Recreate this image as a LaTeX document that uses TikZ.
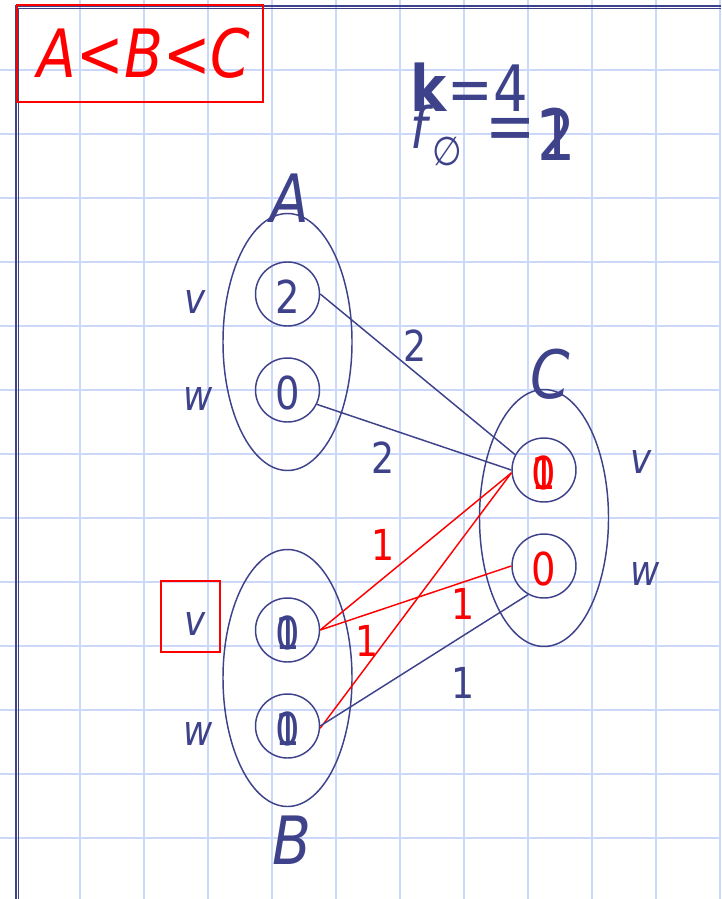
\documentclass[tikz,border=0pt]{standalone}
\usepackage{fontspec}
\setmainfont{DejaVu Sans}[FakeStretch=0.85]
\usetikzlibrary{positioning,shapes.geometric,calc}
\definecolor{slideblue}{RGB}{62,66,138}
\definecolor{slidered}{RGB}{255,0,0}
\definecolor{gridblue}{RGB}{204,216,250}
\newcommand\overlaid[2]{\makebox[0pt]{#1}\makebox[0pt]{#2}}
\newcommand\fs[1]{\fontsize{#1}{1.2\dimexpr#1\relax}\selectfont}
\tikzset{
  gridline/.style={gridblue,line width=1.5pt},
  setell/.style={ellipse,draw=slideblue,line width=1.1pt,minimum width=96.75pt,
                 minimum height=192.75pt,inner sep=0pt},
  elem/.style={circle,draw=slideblue,line width=1.1pt,minimum size=48pt,inner sep=0pt,
               text=slideblue,font=\fs{34pt},text height=29pt,text depth=0pt},
  redelem/.style={elem,text=slidered},
  setname/.style={text=slideblue,font=\fs{50pt}\itshape,inner sep=0pt},
  varname/.style={text=slideblue,font=\fs{31.5pt}\itshape,inner sep=0pt,anchor=base},
  wlbl/.style={text=slideblue,font=\fs{32pt},inner sep=0pt},
  redwlbl/.style={wlbl,text=slidered},
  eb/.style={slideblue,line width=1.1pt},
  er/.style={slidered,line width=1.1pt},
}
\begin{document}
\begin{tikzpicture}[x=0.75pt,y=-0.75pt]
\useasboundingbox[fill=white] (0,0) rectangle (721,899);

% grid paper
\foreach \gx in {80,144,...,720} \draw[gridline] (\gx,0) -- (\gx,899);
\foreach \gy in {70,134,...,838} \draw[gridline] (0,\gy) -- (721,\gy);

% slide frame
\draw[slideblue,line width=1.4pt] (15.8,899) -- (15.8,5.6) -- (721,5.6);
\draw[slideblue,line width=0.9pt] (18.6,899) -- (18.6,8.7) -- (721,8.7);

\node[draw=slidered,line width=1.5pt,minimum width=184.5pt,minimum height=72.75pt,
      text=slidered,font=\fs{50pt}\itshape] (order) at (140,53.5) {\hspace{6pt}A<B<C};

% top right
\node[text=slideblue,font=\fs{48pt},inner sep=0pt,anchor=base west] (kval) at (410,111) {\textbf{k}=4};
\node[text=slideblue,font=\fs{43pt}\itshape,inner sep=0pt,anchor=base west] (fsym) at (410,148) {f};
\node[text=slideblue,font=\fs{30pt},inner sep=0pt,anchor=base] (fsub) at (447,165) {∅};
\node[text=slideblue,font=\fs{53pt},inner sep=0pt,anchor=base] (feq) at (510.5,150) {=};
\node[text=slideblue,font=\fs{53pt},inner sep=0pt,anchor=base] (fval) at (556.5,160) {\overlaid{2}{1}};

% the three sets
\node[setell] (setA) at (287.5,342) {};
\node[setell] (setB) at (287.5,678) {};
\node[setell] (setC) at (544,518) {};

\node[elem] (av) at (287.5,294) {2};
\node[elem] (aw) at (287.5,390) {0};
\node[elem] (bv) at (287.5,630) {\overlaid{0}{1}};
\node[elem] (bw) at (287.5,726) {\overlaid{0}{1}};
\node[redelem] (cv) at (544,470) {\overlaid{1}{0}};
\node[redelem] (cw) at (544,566) {0};

\node[setname,anchor=base] (nameA) at ([xshift=2pt,yshift=-7.5pt]setA.north) {A};
\node[setname,anchor=base] (nameB) at ([xshift=3pt,yshift=-42.75pt]setB.south) {B};
\node[setname,anchor=base] (nameC) at ([xshift=4.5pt,yshift=-7.5pt]setC.north) {C};

\node[varname] (vA) at (195,313) {v};
\node[varname] (wA) at (198,410) {w};
\node[varname] (vB) at (195,635) {v};
\node[varname] (wB) at (198,745) {w};
\node[varname] (vC) at (641,473) {v};
\node[varname] (wC) at (645,585) {w};
\node[draw=slidered,line width=1.5pt,minimum width=44.25pt,minimum height=53.25pt] (mark) at (190.5,616.5) {};

% edges
\draw[eb] (av.east) -- (cv.152);
\draw[eb] (aw.-26) -- (cv.west);
\draw[er] (bv.east) -- (cv.185);
\draw[er] (bv.east) -- (cw.west);
\draw[er] (bw.-4) -- (cv.185);
\draw[eb] (bw.east) -- (cw.241);

\node[wlbl] (l1) at (415.5,346) {2};
\node[wlbl] (l2) at (383,457.5) {2};
\node[redwlbl] (l3) at (383.5,545) {1};
\node[redwlbl] (l4) at (463.5,604) {1};
\node[redwlbl] (l5) at (367,641) {1};
\node[wlbl] (l6) at (463.5,682.5) {1};

\end{tikzpicture}
\end{document}
